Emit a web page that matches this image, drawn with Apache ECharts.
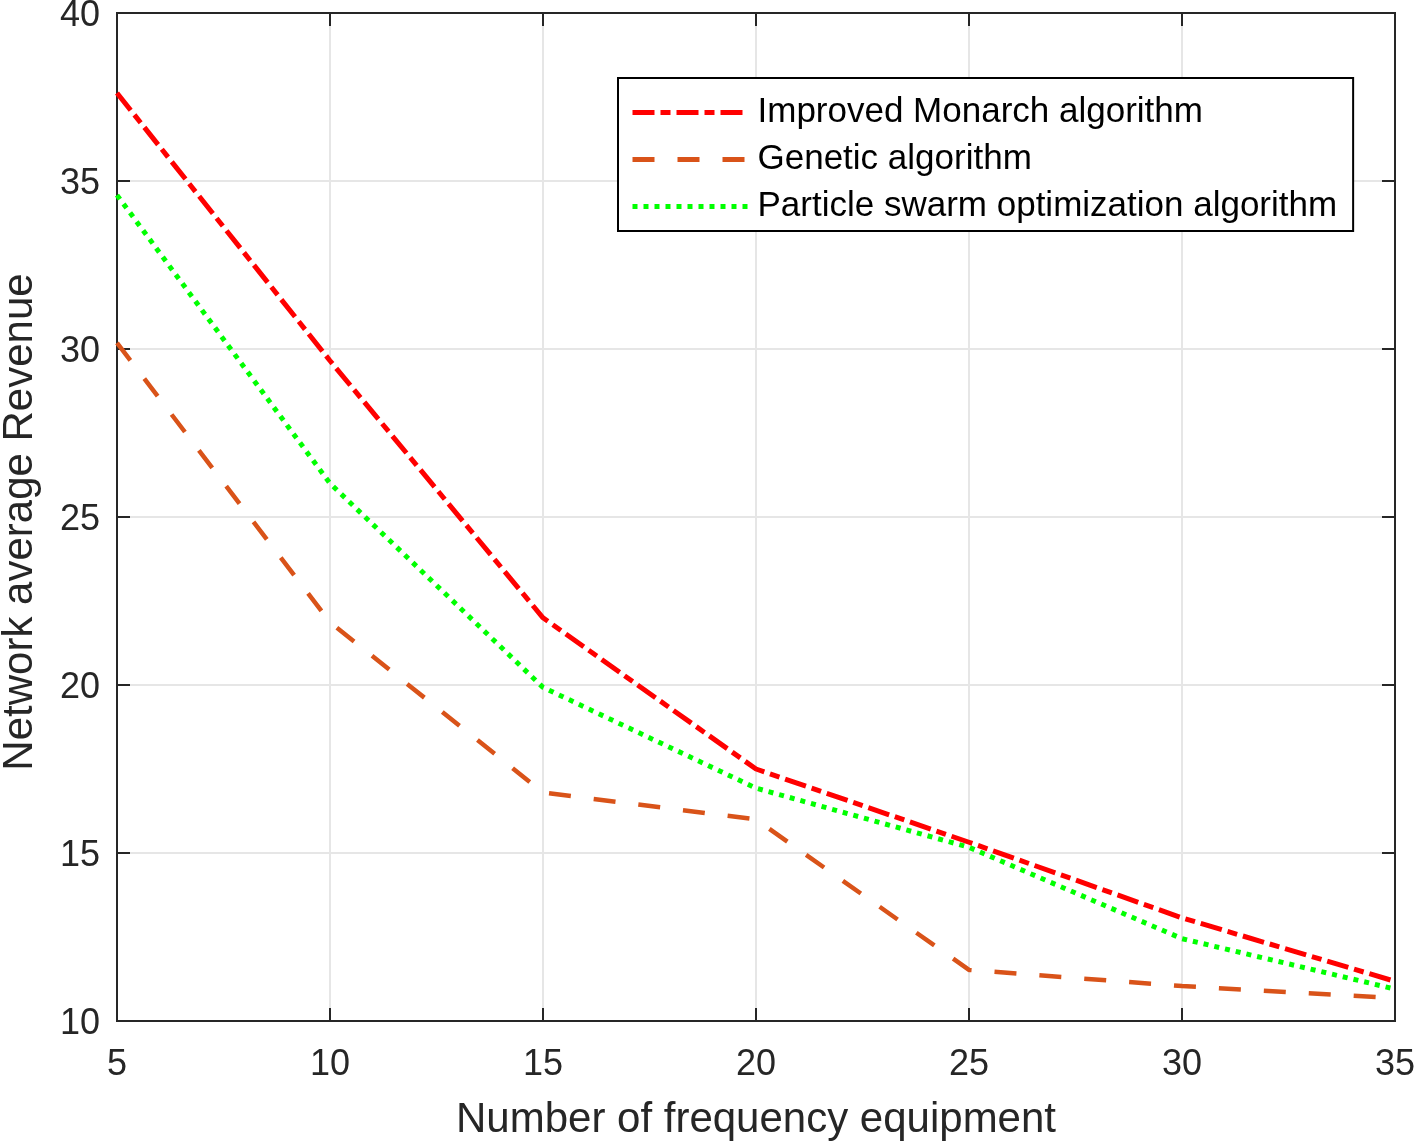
<!DOCTYPE html>
<html>
<head>
<meta charset="utf-8">
<script src="https://cdn.jsdelivr.net/npm/echarts@6/dist/echarts.min.js"></script>
<style>
html,body{margin:0;padding:0;background:#fff;}
#c{width:1416px;height:1145px;}
</style>
</head>
<body>
<div id="c"></div>
<script>
const xValues = [5, 10, 15, 20, 25, 30, 35];
const seriesNames = ['Improved Monarch algorithm', 'Genetic algorithm', 'Particle swarm optimization algorithm'];
const monarch = [37.62, 29.65, 22.0, 17.5, 15.32, 13.07, 11.18];
const genetic = [30.18, 21.87, 16.8, 16.0, 11.52, 11.04, 10.68];
const pso = [34.58, 26.0, 19.93, 16.93, 15.17, 12.45, 10.95];
const xTitle = 'Number of frequency equipment';
const yTitle = 'Network average Revenue';

const FONT = '"Liberation Sans", Arial, sans-serif';
const AX = '#262626';

function pairs(ys){ return xValues.map((x,i)=>[x, ys[i]]); }

const chart = echarts.init(document.getElementById('c'), null, {renderer:'canvas'});

const gridLine = {show:true, lineStyle:{color:'#e6e6e6', width:2}};
const tick = {show:true, inside:true, length:13, lineStyle:{color:AX, width:2}};

chart.setOption({
  backgroundColor:'#fff',
  animation:false,
  grid:{left:117, right:21, top:13, bottom:124, containLabel:false, outerBoundsMode:'none',
        show:true, borderColor:AX, borderWidth:2, backgroundColor:'transparent'},
  legend:{
    orient:'vertical', left:618, top:78,
    backgroundColor:'#fff', borderColor:'#000', borderWidth:2, borderRadius:0,
    padding:[17,16,7,12], itemGap:12, itemWidth:115, itemHeight:14,
    itemStyle:{opacity:0},
    lineStyle:{width:5},
    textStyle:{fontFamily:FONT, fontSize:35, color:'#000', lineHeight:35, padding:[0,0,0,5]},
    data:seriesNames
  },
  xAxis:[{
    type:'value', min:5, max:35, interval:5,
    name:xTitle, nameLocation:'middle', nameGap:78,
    nameTextStyle:{fontFamily:FONT, fontSize:42, color:AX},
    axisLine:{show:true, lineStyle:{color:AX, width:2}},
    axisTick:tick, splitLine:gridLine,
    axisLabel:{fontFamily:FONT, fontSize:36, color:AX, margin:26}
  },{
    type:'value', min:5, max:35, interval:5, position:'top',
    axisLine:{show:true, lineStyle:{color:AX, width:2}},
    axisTick:tick, splitLine:{show:false}, axisLabel:{show:false}
  }],
  yAxis:[{
    type:'value', min:10, max:40, interval:5,
    name:yTitle, nameLocation:'middle', nameGap:76,
    nameTextStyle:{fontFamily:FONT, fontSize:42, color:AX, padding:[0,10,0,0]},
    axisLine:{show:true, lineStyle:{color:AX, width:2}},
    axisTick:tick, splitLine:gridLine,
    axisLabel:{fontFamily:FONT, fontSize:36, color:AX, margin:17,
      formatter:'{a|{value}}',
      rich:{a:{fontFamily:FONT, fontSize:36, color:AX, lineHeight:36, padding:[6,0,0,0]}}}
  },{
    type:'value', min:10, max:40, interval:5, position:'right',
    axisLine:{show:true, lineStyle:{color:AX, width:2}},
    axisTick:tick, splitLine:{show:false}, axisLabel:{show:false}
  }],
  series:[
    {name:seriesNames[0], type:'line', data:pairs(monarch), symbol:'none', z:5,
     itemStyle:{color:'#ff0000'},
     lineStyle:{color:'#ff0000', width:5, type:[22,6,10,6], cap:'butt'}},
    {name:seriesNames[1], type:'line', data:pairs(genetic), symbol:'none', z:3,
     itemStyle:{color:'#d95319'},
     lineStyle:{color:'#d95319', width:4.5, type:[22,23], cap:'butt'}},
    {name:seriesNames[2], type:'line', data:pairs(pso), symbol:'none', z:4,
     itemStyle:{color:'#00ff00'},
     lineStyle:{color:'#00ff00', width:5, type:[5,6], cap:'butt'}}
  ]
});
</script>
</body>
</html>
